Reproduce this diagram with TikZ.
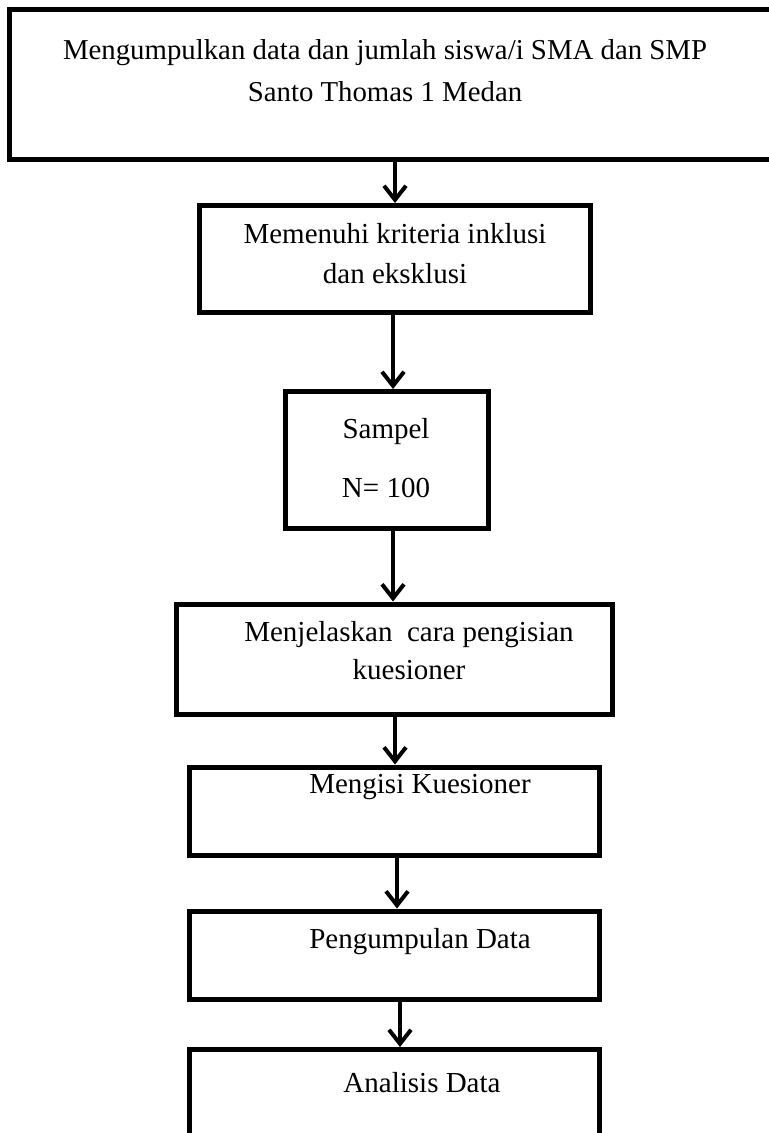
\documentclass[tikz,border=0pt]{standalone}
\usepackage{fontspec}
\setmainfont{Liberation Serif}
\usetikzlibrary{arrows.meta,positioning}

\begin{document}
\begin{tikzpicture}[x=0.5pt, y=-0.5pt,
    box/.style={rectangle, draw, line width=2.5pt, inner sep=0pt},
    txt/.style={align=center, inner sep=0pt, font=\fontsize{14.5}{20}\selectfont},
    arrow/.style={-{Straight Barb[length=7pt, width=11pt, line width=2pt]}, line width=2pt}
]
\useasboundingbox (0,0) rectangle (768,1133);

% Boxes
\node[box, minimum width=383.5pt, minimum height=75pt] at (393,84.5) (collect) {};
\node[box, minimum width=195.5pt, minimum height=53.5pt] at (395,259) (criteria) {};
\node[box, minimum width=101.5pt, minimum height=68.5pt] at (387,460) (sample) {};
\node[box, minimum width=218pt, minimum height=55pt] at (394,659) (explain) {};
\node[box, minimum width=205pt, minimum height=44pt] at (394,811) (fill) {};
\node[box, minimum width=205pt, minimum height=44pt] at (394,955) (gather) {};
\node[box, minimum width=205pt, minimum height=45.5pt] at (394,1095) (analysis) {};

% Texts
\node[txt, font=\fontsize{14.4}{21}\selectfont] at (385,71) (collecttext) {Mengumpulkan data dan jumlah siswa/i SMA dan SMP\\Santo Thomas 1 Medan};
\node[txt] at (395,254) (criteriatext) {Memenuhi kriteria inklusi\\dan eksklusi};
\node[txt, font=\fontsize{14.5}{29.5}\selectfont] at (386,458.5) (sampletext) {Sampel\\N= 100};
\node[txt, font=\fontsize{14.5}{19}\selectfont] at (409,651) (explaintext) {Menjelaskan~~cara pengisian\\kuesioner};
\node[txt] at (420,787) (filltext) {Mengisi Kuesioner};
\node[txt] at (420,942) (gathertext) {Pengumpulan Data};
\node[txt] at (422,1083) (analysistext) {Analisis Data};

% Arrows
\draw[arrow] (collect.south -| criteria) -- (criteria.north);
\draw[arrow] (criteria.south -| 393,0) -- (sample.north -| 393,0);
\draw[arrow] (sample.south -| 393,0) -- (explain.north -| 393,0);
\draw[arrow] (explain.south -| 395,0) -- (fill.north -| 395,0);
\draw[arrow] (fill.south -| 397,0) -- (gather.north -| 397,0);
\draw[arrow] (gather.south -| 400,0) -- (analysis.north -| 400,0);

\end{tikzpicture}
\end{document}
